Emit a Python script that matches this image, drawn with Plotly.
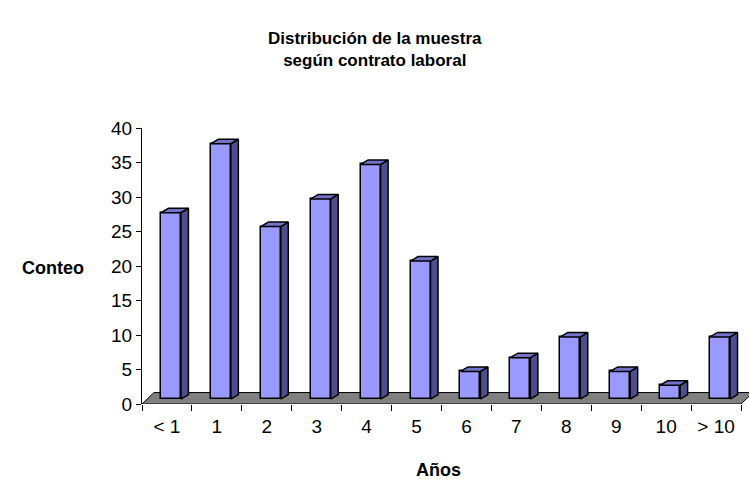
import plotly.graph_objects as go

# Sample distribution by years under the current employment contract
categories = ["< 1", "1", "2", "3", "4", "5", "6", "7", "8", "9", "10", "> 10"]
counts = [27, 37, 25, 29, 34, 20, 4, 6, 9, 4, 2, 9]
y_ticks = [0, 5, 10, 15, 20, 25, 30, 35, 40]

# Pseudo-3D geometry (axis units)
FRONT_SHIFT = 0.08      # bar front face centre offset from category centre
BAR_W = 0.40            # front face width
BAR_BASE = 0.72         # bars stand in the middle of the floor depth
DEPTH_DX = 0.15         # bar depth, horizontal
DEPTH_DY = 0.65         # bar depth, vertical
FLOOR_DX = 0.24
FLOOR_DY = 1.66

FRONT = "#9999FF"
TOP = "#7272C8"
SIDE = "#4E4E8E"
FLOOR = "#808080"

idx = list(range(len(categories)))

fig = go.Figure()

# Front faces
fig.add_trace(go.Bar(
    x=[i + FRONT_SHIFT for i in idx], y=counts, base=BAR_BASE, width=BAR_W,
    marker=dict(color=FRONT, line=dict(color="black", width=1.5)),
    hoverinfo="skip", showlegend=False,
))

# Side and top faces as polygons
side_x, side_y, top_x, top_y = [], [], [], []
for i, v in zip(idx, counts):
    xl = i + FRONT_SHIFT - BAR_W / 2
    xr = i + FRONT_SHIFT + BAR_W / 2
    yb = BAR_BASE
    yt = BAR_BASE + v
    side_x += [xr, xr + DEPTH_DX, xr + DEPTH_DX, xr, xr, None]
    side_y += [yb, yb + DEPTH_DY, yt + DEPTH_DY, yt, yb, None]
    top_x += [xl, xr, xr + DEPTH_DX, xl + DEPTH_DX, xl, None]
    top_y += [yt, yt, yt + DEPTH_DY, yt + DEPTH_DY, yt, None]

fig.add_trace(go.Scatter(x=side_x, y=side_y, mode="lines", fill="toself",
                         fillcolor=SIDE, line=dict(color="black", width=1.5),
                         hoverinfo="skip", showlegend=False))
fig.add_trace(go.Scatter(x=top_x, y=top_y, mode="lines", fill="toself",
                         fillcolor=TOP, line=dict(color="black", width=1.5),
                         hoverinfo="skip", showlegend=False))

# Floor
x0, x1 = -0.5, len(categories) - 0.5
floor_path = (f"M {x0},0 L {x1},0 L {x1 + FLOOR_DX},{FLOOR_DY} "
              f"L {x0 + FLOOR_DX},{FLOOR_DY} Z")
fig.add_shape(type="path", path=floor_path, xref="x", yref="y",
              fillcolor=FLOOR, line=dict(color="black", width=1), layer="below")

FONT = "Liberation Sans, Arial, sans-serif"

fig.update_layout(
    width=749, height=481,
    margin=dict(l=142, r=0, t=128, b=77),
    paper_bgcolor="white", plot_bgcolor="white",
    font=dict(family=FONT, color="black"),
    bargap=0,
    xaxis=dict(
        range=[-0.5, 11.66], tickmode="array", tickvals=idx, ticktext=categories,
        ticks="", showline=False, showgrid=False, zeroline=False,
        tickfont=dict(size=19), ticklabelstandoff=9,
        minor=dict(tickmode="linear", tick0=-0.5, dtick=1, ticks="outside",
                   ticklen=6, tickcolor="black", tickwidth=1, showgrid=False),
    ),
    yaxis=dict(
        range=[0, 40], tickmode="array", tickvals=y_ticks,
        ticks="outside", ticklen=5, tickcolor="black",
        showline=True, linecolor="black", linewidth=1,
        showgrid=False, zeroline=False, tickfont=dict(size=19),
    ),
    annotations=[
        dict(text="<b>Distribución de la muestra<br>según contrato laboral</b>",
             xref="paper", yref="paper", x=0.3839, y=1.2845,
             xanchor="center", yanchor="middle", showarrow=False,
             font=dict(size=17, family=FONT)),
        dict(text="<b>Conteo</b>", xref="paper", yref="paper",
             x=-0.1466, y=0.4928, xanchor="center", yanchor="middle",
             showarrow=False, font=dict(size=18, family=FONT)),
        dict(text="<b>Años</b>", xref="paper", yref="paper",
             x=0.4877, y=-0.239, xanchor="center", yanchor="middle",
             showarrow=False, font=dict(size=18, family=FONT)),
    ],
)

fig.write_html("out.html")
